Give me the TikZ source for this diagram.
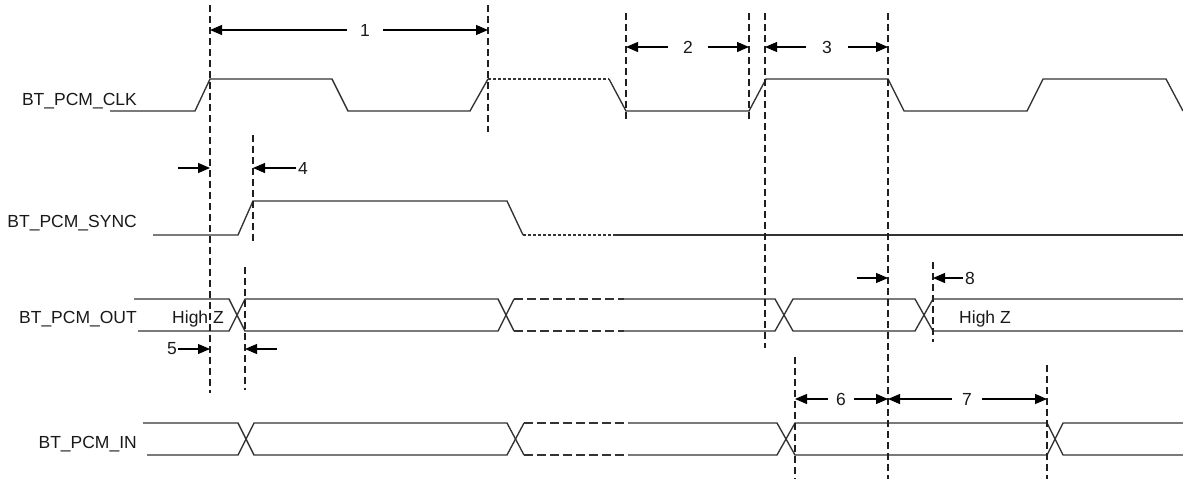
\documentclass[tikz,border=0pt]{standalone}
\usepackage{fontspec}
\setmainfont{Liberation Sans}
\usetikzlibrary{arrows.meta}
\begin{document}
\begin{tikzpicture}[x=1pt,y=-1pt,
  sig/.style={line width=1.35pt, draw=black!80},
  sigdash/.style={sig, dash pattern=on 3pt off 2pt},
  busdash/.style={sig, dash pattern=on 9pt off 4pt},
  vline/.style={line width=1.5pt, draw=black!88, dash pattern=on 7pt off 4pt},
  dim/.style={line width=1.1pt, draw=black, -{Triangle[length=12pt,width=10pt]}},
  sname/.style={font=\fontsize{17.5}{20}\selectfont, anchor=base east, inner sep=0pt, text=black!90},
  num/.style={font=\fontsize{17.5}{20}\selectfont, inner ysep=0pt, text=black!90},
  hz/.style={font=\fontsize{17.5}{20}\selectfont, anchor=base, inner sep=0pt, text=black!90},
]
\useasboundingbox (0,0) rectangle (1183,479);

% signal names
\node[sname] (nclk)  at (137,105) {BT\_PCM\_CLK};
\node[sname] (nsync) at (137,227) {BT\_PCM\_SYNC};
\node[sname] (nout)  at (137,323) {BT\_PCM\_OUT};
\node[sname] (nin)   at (137,448) {BT\_PCM\_IN};

% BT_PCM_CLK
\draw[sig] (110,111) -- (195,111) -- (210,79) -- (332,79) -- (348,111) -- (470,111) -- (488,79);
\draw[sigdash] (488,79) -- (609,79);
\draw[sig] (609,79) -- (626,111) -- (749,111) -- (766,79) -- (888,79) -- (904,111) -- (1027,111) -- (1043,79) -- (1166,79) -- (1183,111);

% BT_PCM_SYNC
\draw[sig] (153,235) -- (238,235) -- (253,201) -- (507,201) -- (523,235);
\draw[sigdash] (523,235) -- (613,235);
\draw[sig] (613,235) -- (1183,235);

% BT_PCM_OUT
\draw[sig] (134,299) -- (229,299) -- (245,331) -- (498,331) -- (514,299);
\draw[sig] (138,331) -- (229,331) -- (245,299) -- (498,299) -- (514,331);
\draw[busdash] (514,299) -- (624,299);
\draw[busdash] (514,331) -- (624,331);
\draw[sig] (624,299) -- (775,299) -- (793,331) -- (915,331) -- (933,299) -- (1183,299);
\draw[sig] (624,331) -- (775,331) -- (793,299) -- (915,299) -- (933,331) -- (1183,331);
\node[hz] (hz1) at (198,323) {High Z};
\node[hz] (hz2) at (985,323) {High Z};

% BT_PCM_IN
\draw[sig] (143,423) -- (238,423) -- (254,455) -- (507,455) -- (524,423);
\draw[sig] (147,455) -- (238,455) -- (254,423) -- (507,423) -- (524,455);
\draw[busdash] (524,423) -- (628,423);
\draw[busdash] (524,455) -- (628,455);
\draw[sig] (628,423) -- (777,423) -- (795,455) -- (1047,455) -- (1063,423) -- (1183,423);
\draw[sig] (628,455) -- (777,455) -- (795,423) -- (1047,423) -- (1063,455) -- (1183,455);

% vertical dashed markers
\coordinate (v1t) at (210,5);   \coordinate (v1b) at (210,393);
\coordinate (v2t) at (253,135); \coordinate (v2b) at (253,243);
\coordinate (v3t) at (245,267); \coordinate (v3b) at (245,390);
\coordinate (v4t) at (488,5);   \coordinate (v4b) at (488,132);
\coordinate (v5t) at (626,13);  \coordinate (v5b) at (626,120);
\coordinate (v6t) at (749,13);  \coordinate (v6b) at (749,120);
\coordinate (v7t) at (765,13);  \coordinate (v7b) at (765,348);
\coordinate (v8t) at (888,13);  \coordinate (v8b) at (888,479);
\coordinate (v9t) at (795,357); \coordinate (v9b) at (795,479);
\coordinate (v10t) at (933,262); \coordinate (v10b) at (933,342);
\coordinate (v11t) at (1047,365); \coordinate (v11b) at (1047,479);
\foreach \v in {v1,v2,v3,v4,v5,v6,v7,v8,v9,v10,v11}
  \draw[vline] (\v t) -- (\v b);

% dimension 1
\coordinate (d1a) at (210,30); \coordinate (d1b) at (488,30);
\node[num, inner xsep=13pt] (n1) at (365,30) {1};
\draw[dim] (n1) -- (d1a);
\draw[dim] (n1) -- (d1b);
% dimension 2
\coordinate (d2a) at (626,47); \coordinate (d2b) at (749,47);
\node[num, inner xsep=15pt] (n2) at (688,47) {2};
\draw[dim] (n2) -- (d2a);
\draw[dim] (n2) -- (d2b);
% dimension 3
\coordinate (d3a) at (765,47); \coordinate (d3b) at (888,47);
\node[num, inner xsep=16pt] (n3) at (827,47) {3};
\draw[dim] (n3) -- (d3a);
\draw[dim] (n3) -- (d3b);
% dimension 4
\coordinate (d4s) at (178,168); \coordinate (d4a) at (210,168);
\coordinate (d4b) at (253,168);
\node[num, inner xsep=2pt, anchor=west] (n4) at (296,168) {4};
\draw[dim] (d4s) -- (d4a);
\draw[dim] (n4) -- (d4b);
% dimension 5
\coordinate (d5a) at (210,349); \coordinate (d5b) at (245,349);
\coordinate (d5s) at (277,349);
\node[num, inner xsep=1pt] (n5) at (172,349) {5};
\draw[dim] (n5) -- (d5a);
\draw[dim] (d5s) -- (d5b);
% dimension 6
\coordinate (d6a) at (795,399); \coordinate (d6b) at (888,399);
\node[num, inner xsep=8pt] (n6) at (841,399) {6};
\draw[dim] (n6) -- (d6a);
\draw[dim] (n6) -- (d6b);
% dimension 7
\coordinate (d7a) at (888,399); \coordinate (d7b) at (1047,399);
\node[num, inner xsep=10pt] (n7) at (967,399) {7};
\draw[dim] (n7) -- (d7a);
\draw[dim] (n7) -- (d7b);
% dimension 8
\coordinate (d8s) at (857,278); \coordinate (d8a) at (888,278);
\coordinate (d8b) at (933,278);
\node[num, inner xsep=2pt, anchor=west] (n8) at (963,278) {8};
\draw[dim] (d8s) -- (d8a);
\draw[dim] (n8) -- (d8b);
\end{tikzpicture}
\end{document}
